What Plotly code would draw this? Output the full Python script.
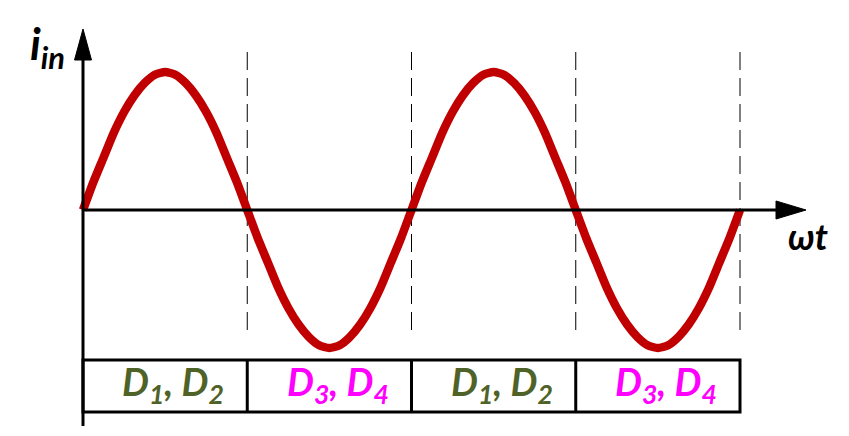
import plotly.graph_objects as go

period_phase = [0, 0.0625, 0.125, 0.1875, 0.25, 0.3125, 0.375, 0.4375,
                0.5, 0.5625, 0.625, 0.6875, 0.75, 0.8125, 0.875, 0.9375,
                1, 1.0625, 1.125, 1.1875, 1.25, 1.3125, 1.375, 1.4375,
                1.5, 1.5625, 1.625, 1.6875, 1.75, 1.8125, 1.875, 1.9375]
period_current = [0, 0.20, 0.38, 0.56, 0.71, 0.83, 0.92, 0.98,
                  1.0, 0.98, 0.92, 0.83, 0.71, 0.56, 0.38, 0.20,
                  0, -0.20, -0.38, -0.56, -0.71, -0.83, -0.92, -0.98,
                  -1.0, -0.98, -0.92, -0.83, -0.71, -0.56, -0.38, -0.20]
phase = period_phase + [p + 2 for p in period_phase] + [4]
current = period_current + period_current + [0]

boundaries = [1, 2, 3, 4]
cell_labels = ["D<sub>1</sub>, D<sub>2</sub>", "D<sub>3</sub>, D<sub>4</sub>",
               "D<sub>1</sub>, D<sub>2</sub>", "D<sub>3</sub>, D<sub>4</sub>"]
cell_colors = ["#4F6228", "#FF00FF", "#4F6228", "#FF00FF"]

W, H = 849, 436
OFF = 8                      # page body margin
X0PX, SX = 83.0, 164.25      # screen px of phase 0, px per unit
Y0PX, SY = 210.0, 138.0      # screen px of zero, px per unit

def px_x(p):
    return (p - X0PX) / SX

def px_y(p):
    return (Y0PX - p) / SY

fig = go.Figure()
fig.add_trace(go.Scatter(x=phase, y=current, mode="lines",
                         line=dict(color="#C00000", width=8.5, shape="spline", smoothing=0.6),
                         hoverinfo="skip"))

shapes = []
shapes.append(dict(type="line", x0=0, x1=px_x(780), y0=0, y1=0,
                   line=dict(color="black", width=3)))
shapes.append(dict(type="line", x0=0, x1=0, y0=px_y(426), y1=px_y(55),
                   line=dict(color="black", width=3)))
shapes.append(dict(type="path",
                   path=f"M {px_x(776)},{px_y(201)} L {px_x(806)},{px_y(210)} L {px_x(776)},{px_y(219)} Z",
                   fillcolor="black", line=dict(color="black", width=1)))
shapes.append(dict(type="path",
                   path=f"M {px_x(74.5)},{px_y(60)} L {px_x(83)},{px_y(29)} L {px_x(91.5)},{px_y(60)} Z",
                   fillcolor="black", line=dict(color="black", width=1)))
for b in boundaries:
    shapes.append(dict(type="line", x0=b, x1=b, y0=px_y(330), y1=px_y(52),
                       line=dict(color="black", width=1, dash="18px,8px"), layer="below"))
ytop, ybot = px_y(360), px_y(412)
shapes.append(dict(type="rect", x0=0, x1=4, y0=ybot, y1=ytop,
                   line=dict(color="black", width=3)))
for b in boundaries[:-1]:
    shapes.append(dict(type="line", x0=b, x1=b, y0=ybot, y1=ytop,
                       line=dict(color="black", width=3)))

annotations = []
for i, (lab, col) in enumerate(zip(cell_labels, cell_colors)):
    annotations.append(dict(x=i + 0.55, y=px_y(384), text=f"<b><i>{lab}</i></b>",
                            showarrow=False, xanchor="center", yanchor="middle",
                            font=dict(family="Lato", size=38, color=col)))
annotations.append(dict(x=px_x(47), y=px_y(46), text="<b><i>i<sub>in</sub></i></b>",
                        showarrow=False, xanchor="center", yanchor="middle",
                        font=dict(family="Lato", size=44, color="black")))
annotations.append(dict(x=px_x(808), y=px_y(236), text="<b><i>ωt</i></b>",
                        showarrow=False, xanchor="center", yanchor="middle",
                        font=dict(family="Lato", size=36, color="black")))

fig.update_layout(
    width=W, height=H,
    margin=dict(l=0, r=0, t=0, b=0),
    paper_bgcolor="white", plot_bgcolor="white",
    showlegend=False,
    xaxis=dict(range=[px_x(OFF), px_x(W + OFF)], visible=False, fixedrange=True),
    yaxis=dict(range=[px_y(H + OFF), px_y(OFF)], visible=False, fixedrange=True),
    shapes=shapes, annotations=annotations,
)
fig.write_html("out.html")
